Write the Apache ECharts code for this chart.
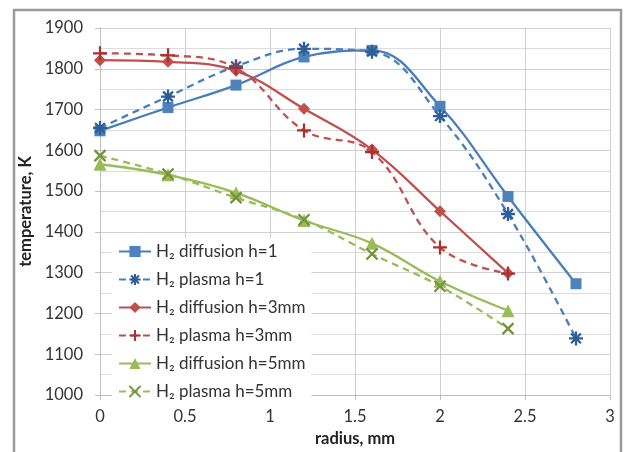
<!DOCTYPE html>
<html><head><meta charset="utf-8">
<script src="https://cdn.jsdelivr.net/npm/echarts@6/dist/echarts.min.js"></script>
<style>html,body{margin:0;padding:0;background:#fff}#c{width:626px;height:452px}</style>
</head><body><div id="c"></div>
<script>
var radius = [0, 0.4, 0.8, 1.2, 1.6, 2.0, 2.4, 2.8];
var seriesNames = ['H\u2082 diffusion h=1', 'H\u2082 plasma h=1', 'H\u2082 diffusion h=3mm', 'H\u2082 plasma h=3mm', 'H\u2082 diffusion h=5mm', 'H\u2082 plasma h=5mm'];
var blueDiff = [1648, 1705, 1760, 1829, 1845, 1708, 1487, 1273];
var bluePlasma = [1655, 1732, 1806, 1849, 1842, 1684, 1444, 1139];
var redDiff = [1821, 1817, 1795, 1702, 1602, 1451, 1299];
var redPlasma = [1838, 1833, 1802, 1649, 1596, 1362, 1298];
var greenDiff = [1566, 1540, 1496, 1428, 1372, 1279, 1207];
var greenPlasma = [1587, 1542, 1484, 1430, 1346, 1267, 1163];
var xTicks = [0, 0.5, 1, 1.5, 2, 2.5, 3];

function pairs(vals){ return vals.map(function(v,i){ return [radius[i], v]; }); }

var FONT = 'Lato';
var ASTER = 'path://M10,0 L10,20 M0,10 L20,10 M3,3 L17,17 M17,3 L3,17';
var PLUS = 'path://M10,0 L10,20 M0,10 L20,10';
var CROSS = 'path://M0,0 L20,20 M20,0 L0,20';

function mk(name, vals, color, mColor, dashed, symbol, size, stroke){
  return {
    name: name, type: 'line', data: pairs(vals), smooth: 0.4,
    symbol: symbol, symbolSize: size,
    lineStyle: {color: color, width: 2.3, type: dashed ? [7,5] : 'solid'},
    itemStyle: stroke ? {color: mColor, borderColor: mColor, borderWidth: 2.3}
                      : {color: mColor, borderWidth: 0},
    emphasis: {disabled: true}, z: 3
  };
}

var chart = echarts.init(document.getElementById('c'), null, {renderer:'canvas'});
chart.setOption({
  animation: false,
  backgroundColor: '#fff',
  textStyle: {fontFamily: FONT},
  graphic: [{type:'rect', shape:{x:14, y:10, width:607, height:460}, style:{fill:'none', stroke:'#9a9a9a', lineWidth:2.5}, z:-1}],
  grid: {left: 100, right: 16, top: 28, bottom: 48.5, containLabel: false},
  legend: {
    orient: 'vertical', left: 112, top: 238, backgroundColor: '#fff',
    padding: [5, 6, 5, 6], itemGap: 11, itemWidth: 32, itemHeight: 14,
    textStyle: {fontFamily: FONT, fontSize: 17, color: '#333'},
    data: seriesNames
  },
  xAxis: {
    type: 'value', min: 0, max: 3, interval: 0.5,
    name: 'radius, mm', nameLocation: 'middle', nameGap: 33,
    nameTextStyle: {fontFamily: FONT, fontSize: 16.5, fontWeight: 'bold', color: '#222'},
    axisLine: {show: true, lineStyle: {color: '#bfbfbf', width: 1}},
    axisTick: {show: true, length: 5, lineStyle: {color: '#bfbfbf'}},
    axisLabel: {fontFamily: FONT, fontSize: 16.5, color: '#333', margin: 13,
      formatter: function(v){ return xTicks.indexOf(v) >= 0 ? String(v) : ''; }},
    splitLine: {show: true, lineStyle: {color: '#d0d0d0', width: 1}}
  },
  yAxis: {
    type: 'value', min: 1000, max: 1900, interval: 100,
    name: 'temperature, K', nameLocation: 'middle', nameGap: 62,
    nameTextStyle: {fontFamily: FONT, fontSize: 16.5, fontWeight: 'bold', color: '#222'},
    axisLine: {show: true, lineStyle: {color: '#bfbfbf', width: 1}},
    axisTick: {show: true, length: 5, lineStyle: {color: '#bfbfbf'}},
    axisLabel: {fontFamily: FONT, fontSize: 16.5, color: '#333', margin: 17,
      formatter: function(v){ return String(v); }},
    splitLine: {show: true, lineStyle: {color: '#d0d0d0', width: 1}},
    minorTick: {show: false, splitNumber: 2},
    minorSplitLine: {show: true, lineStyle: {color: '#dcdcdc', width: 1}}
  },
  series: [
    mk(seriesNames[0], blueDiff, '#4A7EBB', '#4F81BD', false, 'rect', 11, false),
    mk(seriesNames[1], bluePlasma, '#4A7EBB', '#2E5E98', true, ASTER, 14, true),
    mk(seriesNames[2], redDiff, '#C0504D', '#C0504D', false, 'diamond', 12, false),
    mk(seriesNames[3], redPlasma, '#C0504D', '#A8322F', true, PLUS, 14, true),
    mk(seriesNames[4], greenDiff, '#9BBB59', '#9BBB59', false, 'triangle', 13, false),
    mk(seriesNames[5], greenPlasma, '#9BBB59', '#76923C', true, CROSS, 11, true)
  ]
});
</script></body></html>
